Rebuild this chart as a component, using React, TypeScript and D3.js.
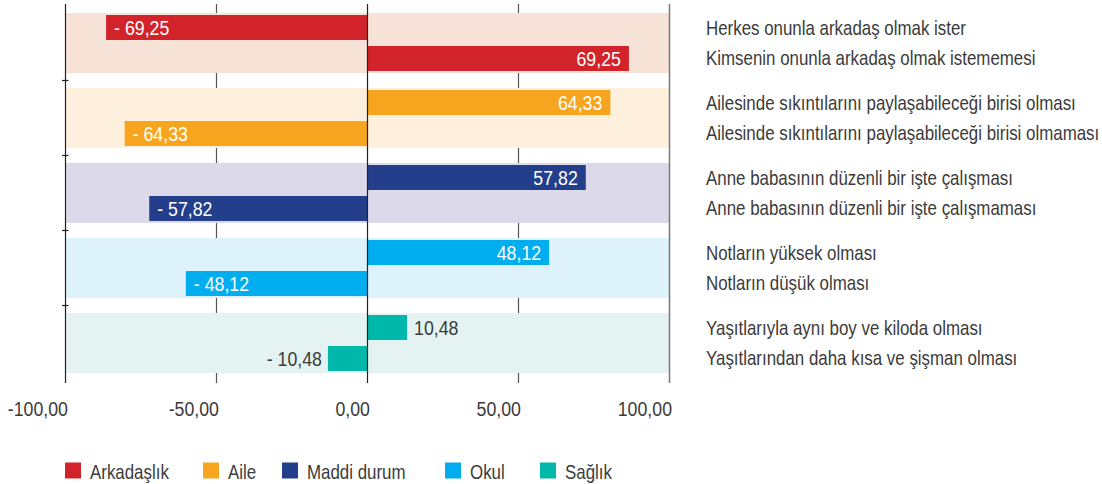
import React from "react";
import * as d3 from "d3";

const categories = ["Arkadaşlık", "Aile", "Maddi durum", "Okul", "Sağlık"];
const colors = ["#D2232A", "#F7A51E", "#233F8C", "#00AEEF", "#00B8A9"];
const bandColors = ["#F7E2D8", "#FEF0DD", "#DCDAEA", "#DDF2FB", "#E4F3F2"];
const topLabels = [
  "Herkes onunla arkadaş olmak ister",
  "Ailesinde sıkıntılarını paylaşabileceği birisi olması",
  "Anne babasının düzenli bir işte çalışması",
  "Notların yüksek olması",
  "Yaşıtlarıyla aynı boy ve kiloda olması",
];
const bottomLabels = [
  "Kimsenin onunla arkadaş olmak istememesi",
  "Ailesinde sıkıntılarını paylaşabileceği birisi olmaması",
  "Anne babasının düzenli bir işte çalışmaması",
  "Notların düşük olması",
  "Yaşıtlarından daha kısa ve şişman olması",
];
const topValues = [-69.25, 64.33, 57.82, 48.12, 10.48];
const bottomValues = [69.25, -64.33, -57.82, -48.12, -10.48];
const xTicks = [-100, -50, 0, 50, 100];

const FONT = "'Liberation Sans', Arial, sans-serif";
const TEXT = "#3b3b3b";
const SX = 0.845;

const locale = d3.formatLocale({ decimal: ",", thousands: ".", grouping: [3], currency: ["", ""], minus: "-" });
const fmt2 = locale.format(".2f");
const fmtVal = (v: number) => (v < 0 ? "- " + fmt2(-v) : fmt2(v));

function T(props: { x: number; y: number; anchor?: string; fill?: string; size?: number; children: React.ReactNode }) {
  const { x, y, anchor = "start", fill = TEXT, size = 20, children } = props;
  return (
    <text transform={`translate(${x},${y}) scale(${SX},1)`} textAnchor={anchor} fill={fill} fontSize={size}>
      {children}
    </text>
  );
}

export default function App() {
  const W = 1102, H = 484;
  const left = 65.5, right = 669.5;
  const top = 4, bottom = 383;
  const xAxis = d3.scaleLinear().domain([-100, 100]).range([left, right]);
  const xBar = d3.scaleLinear().domain([-80, 80]).range([left, right]);
  const yGroup = d3.scaleBand<number>().domain(d3.range(categories.length)).range([13, 373]).paddingInner(0.2).paddingOuter(0);
  const yInner = d3.scaleBand<number>().domain([0, 1]).range([0, yGroup.bandwidth()]).paddingInner(0.194).paddingOuter(0.065);
  const x0 = xBar(0);

  const rows: { g: number; i: number; v: number; label: string }[] = [];
  categories.forEach((_, g) => {
    rows.push({ g, i: 0, v: topValues[g], label: topLabels[g] });
    rows.push({ g, i: 1, v: bottomValues[g], label: bottomLabels[g] });
  });

  const legendX = [65, 203, 282, 445, 540];

  return (
    <svg width={W} height={H} style={{ position: "absolute", left: 0, top: 0, background: "#fff" }} fontFamily={FONT}>
      {[-50, 50].map((t) => (
        <line key={t} x1={xAxis(t)} x2={xAxis(t)} y1={top} y2={bottom} stroke="#555" strokeWidth={1.2} />
      ))}
      {categories.map((c, g) => (
        <rect key={c} x={left} y={yGroup(g)!} width={right - left} height={yGroup.bandwidth()} fill={bandColors[g]} />
      ))}
      {rows.map((r, k) => {
        const y = yGroup(r.g)! + yInner(r.i)!;
        const h = yInner.bandwidth();
        const xv = xBar(r.v);
        const bx = Math.min(xv, x0);
        const bw = Math.abs(xv - x0);
        const small = Math.abs(r.v) < 20;
        let tx: number, anchor: string, fill: string;
        if (r.v < 0) {
          if (small) { tx = xv - 6; anchor = "end"; fill = TEXT; }
          else { tx = xv + 8; anchor = "start"; fill = "#fff"; }
        } else {
          if (small) { tx = xv + 7; anchor = "start"; fill = TEXT; }
          else { tx = xv - 8; anchor = "end"; fill = "#fff"; }
        }
        return (
          <g key={k}>
            <rect x={bx} y={y} width={bw} height={h} fill={colors[r.g]} />
            <T x={tx} y={y + h / 2 + 7.5} anchor={anchor} fill={fill} size={21}>{fmtVal(r.v)}</T>
            <T x={706} y={y + h / 2 + 7} size={20}>{r.label}</T>
          </g>
        );
      })}
      <line x1={xAxis(100)} x2={xAxis(100)} y1={top} y2={bottom} stroke="#777" strokeWidth={1.5} />
      <line x1={left} x2={left} y1={top} y2={bottom} stroke="#222" strokeWidth={1.2} />
      <line x1={xAxis(0)} x2={xAxis(0)} y1={top} y2={bottom} stroke="#222" strokeWidth={1.2} />
      {d3.range(1, categories.length).map((g) => {
        const y = yGroup(g)! - (yGroup.step() - yGroup.bandwidth()) / 2;
        return <line key={g} x1={left - 3.5} x2={left + 3} y1={y} y2={y} stroke="#222" strokeWidth={1.2} />;
      })}
      {xTicks.map((t) => (
        <T key={t} x={xAxis(t) + 2.5} y={416} anchor="end" size={21}>{fmt2(t)}</T>
      ))}
      {categories.map((c, g) => (
        <g key={c}>
          <rect x={legendX[g]} y={462.5} width={16} height={16} fill={colors[g]} />
          <T x={legendX[g] + 25} y={478.5} size={20}>{c}</T>
        </g>
      ))}
    </svg>
  );
}
